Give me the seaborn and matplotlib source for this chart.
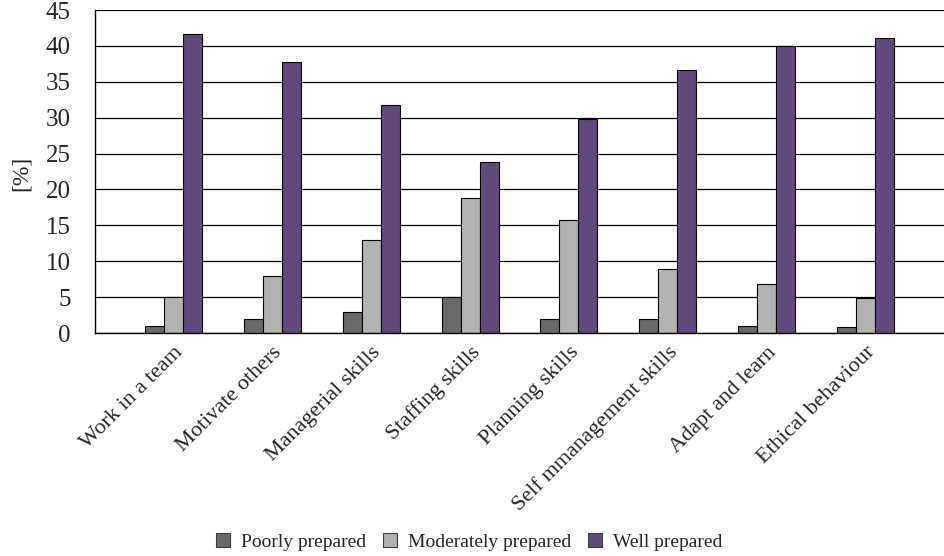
import numpy as np
import pandas as pd
import matplotlib
matplotlib.use("Agg")
import matplotlib.pyplot as plt
import seaborn as sns
from matplotlib.patches import Patch

# values (percent)
skills = ["Work in a team", "Motivate others", "Managerial skills", "Staffing skills",
          "Planning skills", "Self mmanagement skills", "Adapt and learn", "Ethical behaviour"]
poorly = [1, 2, 3, 5, 2, 2, 1, 0.9]
moderately = [5, 8, 13, 18.8, 15.7, 8.9, 6.9, 4.9]
well = [41.7, 37.7, 31.8, 23.8, 29.8, 36.7, 40, 41.1]
levels = ["Poorly prepared", "Moderately prepared", "Well prepared"]
colors = ["#696969", "#b2b2b2", "#604a7b"]

df = pd.DataFrame({
    "skill": skills * 3,
    "level": np.repeat(levels, len(skills)),
    "pct": poorly + moderately + well,
})

sns.set_style("white")
plt.rcParams["font.family"] = ["Liberation Serif", "DejaVu Serif"]

fig = plt.figure(figsize=(9.44, 5.56), dpi=100)
ax = fig.add_axes([0.1006, 0.401, 0.8994, 0.581])

sns.barplot(data=df, x="skill", y="pct", hue="level", hue_order=levels,
            order=skills, palette=colors, width=0.576, gap=0,
            edgecolor="black", linewidth=0.8, saturation=1, ax=ax, legend=False)

ax.set_ylim(0, 45)
ax.set_yticks(range(0, 46, 5))
ax.set_xlim(-0.79, 7.79)
ax.set_axisbelow(True)
ax.yaxis.grid(True, color="black", linewidth=0.9)
ax.xaxis.grid(False)
for s in ["top", "right"]:
    ax.spines[s].set_visible(False)
ax.spines["left"].set_color("black")
ax.spines["left"].set_linewidth(1.0)
ax.spines["bottom"].set_color("black")
ax.spines["bottom"].set_linewidth(1.0)

ax.tick_params(axis="y", direction="out", length=4.5, width=0.9, color="black",
               labelsize=18, pad=13)
ax.tick_params(axis="x", length=0, labelsize=16, pad=7)
plt.setp(ax.get_xticklabels(), rotation=45, ha="right", rotation_mode="anchor")

ax.set_xlabel("")
ax.set_ylabel("[%]", fontsize=17)
ax.yaxis.set_label_coords(-0.074, 0.495)

handles = [Patch(facecolor=c, edgecolor="#404040", linewidth=0.8) for c in colors]
fig.legend(handles, levels, loc="lower center", bbox_to_anchor=(0.497, -0.022), ncol=3,
           frameon=False, fontsize=14, handlelength=0.7, handleheight=0.7,
           handletextpad=0.55, columnspacing=0.9)

fig.savefig("out.png", dpi=100)
